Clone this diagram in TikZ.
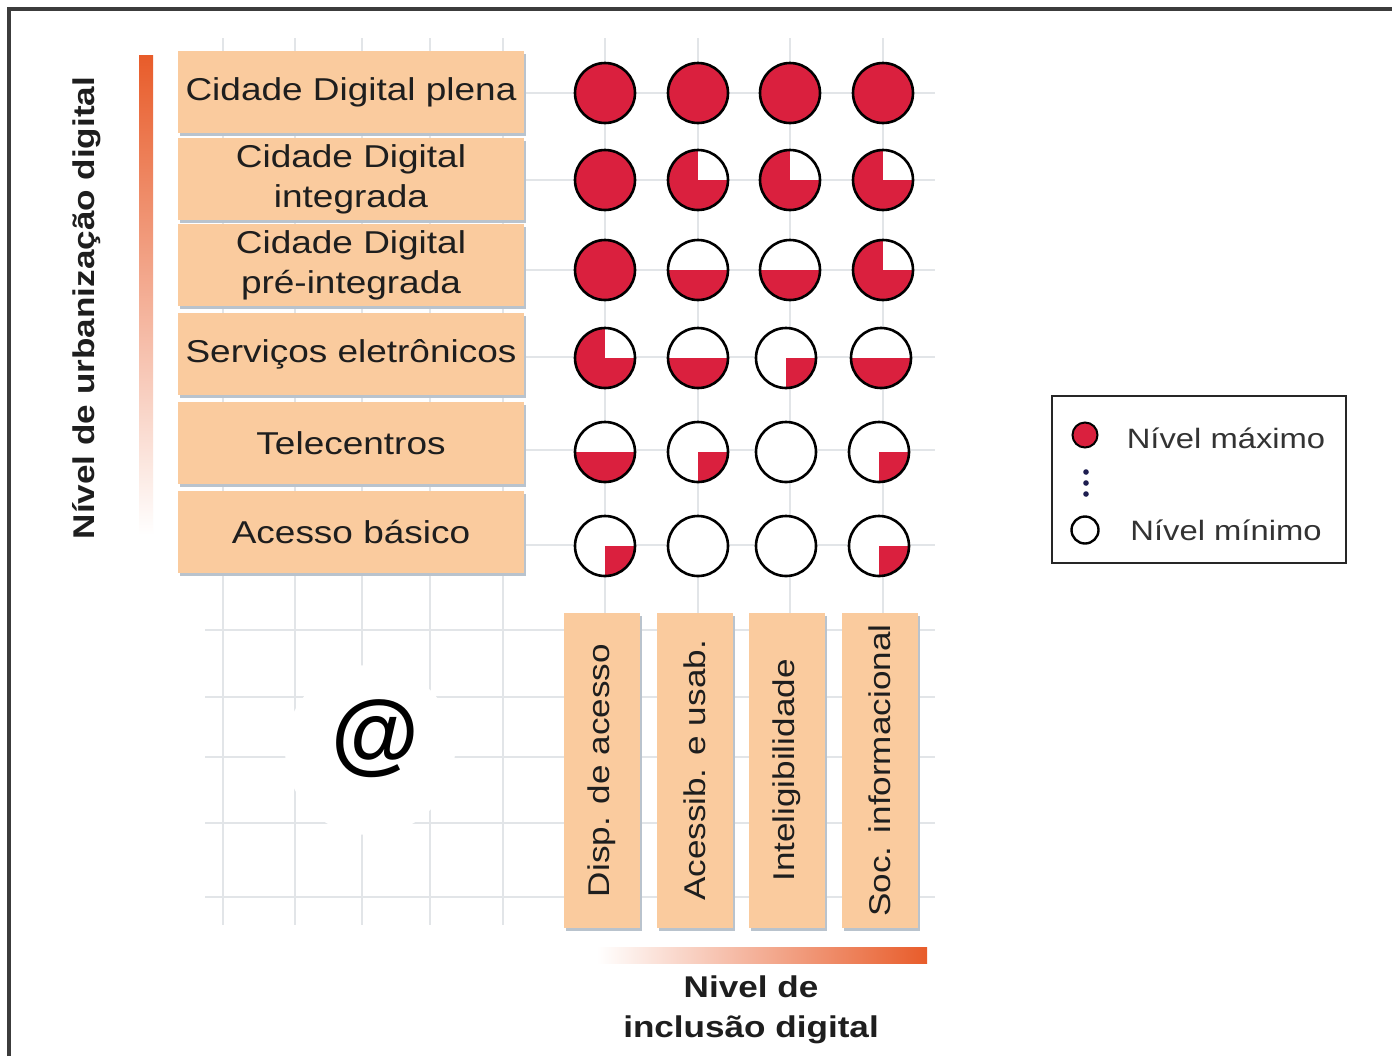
\documentclass[tikz,border=0pt]{standalone}
\usepackage{fontspec}
\usepackage{graphicx}
\setmainfont{Liberation Sans}[FakeStretch=1.17]
\newfontfamily\atfont{Liberation Sans}
\usetikzlibrary{shadows}
\definecolor{peach}{RGB}{250,203,158}
\definecolor{redc}{RGB}{218,32,62}
\definecolor{orangec}{RGB}{232,92,42}
\definecolor{pinkc}{RGB}{236,165,155}
\definecolor{gridc}{RGB}{226,229,232}
\definecolor{shadowc}{RGB}{185,195,205}
\definecolor{txt}{RGB}{30,30,30}
\definecolor{framec}{RGB}{60,60,60}
\definecolor{navyc}{RGB}{30,30,80}
\begin{document}
\begin{tikzpicture}[x=0.5pt,y=-0.5pt,
  rowbox/.style={rectangle, fill=peach, minimum width=173pt, minimum height=41pt,
    inner sep=0pt, align=center, text=txt, font=\fontsize{15.8}{20}\selectfont,
    general shadow={shadow xshift=1pt, shadow yshift=-1.5pt, fill=shadowc}},
  colbox/.style={rectangle, fill=peach, minimum width=38pt, minimum height=157.5pt,
    inner sep=0pt, text=txt, font=\fontsize{15}{20}\selectfont,
    general shadow={shadow xshift=1.2pt, shadow yshift=-1.5pt, fill=shadowc}},
  lev/.style={circle, draw=black, line width=1.3pt, minimum size=30pt, inner sep=0pt},
  lev4/.style={lev, fill=redc},
  lev3/.style={lev, fill=redc, path picture={\fill[white] (path picture bounding box.center) rectangle (path picture bounding box.north east);}},
  lev2/.style={lev, fill=white, path picture={\fill[redc] (path picture bounding box.west) rectangle (path picture bounding box.south east);}},
  lev1/.style={lev, fill=white, path picture={\fill[redc] (path picture bounding box.center) rectangle (path picture bounding box.south east);}},
  lev0/.style={lev, fill=white},
  gridline/.style={draw=gridc, line width=1pt},
  labtext/.style={text=txt, font=\bfseries\fontsize{15}{20}\selectfont, inner sep=0pt},
  dotc/.style={circle, fill=navyc, minimum size=2.8pt, inner sep=0pt}
]
\useasboundingbox (0,0) rectangle (1392,1056);
\fill[white] (0,0) rectangle (1392,1056);
% frame
\draw[framec, line width=1.6pt] (9,1056) -- (9,9) -- (1392,9);
% grid
\foreach \gx in {223,295,362,430,503,605,698,790,883}
  \draw[gridline] (\gx,38) -- (\gx,925);
\foreach \gy in {93,180,270,357,450,545,630,697,757,823,897}
  \draw[gridline] (205,\gy) -- (935,\gy);
% @ with white patch
\node[circle, fill=white, minimum size=85pt, inner sep=0pt] (atbg) at (370,750) {};
\node[font=\atfont\bfseries\fontsize{45}{45}\selectfont, inner sep=0pt] (at) at (375,739) {@};
% axis label and bar (vertical)
\shade[top color=orangec, middle color=pinkc, bottom color=white] (139,55) rectangle (153,535);
\node[labtext, rotate=90] (ylab) at (87,308) {Nível de urbanização digital};
% row boxes
\node[rowbox] (r1) at (351,92) {Cidade Digital plena};
\node[rowbox] (r2) at (351,179) {Cidade Digital\\integrada};
\node[rowbox] (r3) at (351,265) {Cidade Digital\\pré-integrada};
\node[rowbox] (r4) at (351,354) {Serviços eletrônicos};
\node[rowbox] (r5) at (351,443) {Telecentros};
\node[rowbox] (r6) at (351,532) {Acesso básico};
% column boxes
\node[colbox] (k1) at (601.5,770.5) {\rotatebox{90}{Disp. de acesso}};
\node[colbox] (k2) at (694.5,770.5) {\rotatebox{90}{Acessib. e usab.}};
\node[colbox] (k3) at (787,770.5) {\rotatebox{90}{Inteligibilidade}};
\node[colbox] (k4) at (880,770.5) {\rotatebox{90}{Soc. informacional}};
% horizontal bar and label
\shade[left color=white, middle color=pinkc, right color=orangec] (597,947) rectangle (927,963);
\node[labtext, align=center] (xlab) at (751,1010) {Nivel de\\inclusão digital};
% circles
\node[lev4] (c11) at (605,93) {};
\node[lev4] (c12) at (698,93) {};
\node[lev4] (c13) at (790,93) {};
\node[lev4] (c14) at (883,93) {};
\node[lev4] (c21) at (605,180) {};
\node[lev3] (c22) at (698,180) {};
\node[lev3] (c23) at (790,180) {};
\node[lev3] (c24) at (883,180) {};
\node[lev4] (c31) at (605,270) {};
\node[lev2] (c32) at (698,270) {};
\node[lev2] (c33) at (790,270) {};
\node[lev3] (c34) at (883,270) {};
\node[lev3] (c41) at (605,358) {};
\node[lev2] (c42) at (698,358) {};
\node[lev1] (c43) at (786,358) {};
\node[lev2] (c44) at (881,358) {};
\node[lev2] (c51) at (605,452) {};
\node[lev1] (c52) at (698,452) {};
\node[lev0] (c53) at (786,452) {};
\node[lev1] (c54) at (879,452) {};
\node[lev1] (c61) at (605,546) {};
\node[lev0] (c62) at (698,546) {};
\node[lev0] (c63) at (786,546) {};
\node[lev1] (c64) at (879,546) {};
% legend
\node[draw=black!85, line width=1pt, minimum width=147pt, minimum height=83.5pt, inner sep=0pt] (leg) at (1199,479.5) {};
\node[circle, fill=redc, draw=black, line width=1pt, minimum size=12.5pt, inner sep=0pt] (lmax) at (1085,435) {};
\node[dotc] (d1) at (1086,472) {};
\node[dotc] (d2) at (1086,483) {};
\node[dotc] (d3) at (1086,494) {};
\node[circle, fill=white, draw=black, line width=1.2pt, minimum size=13.5pt, inner sep=0pt] (lmin) at (1085,530) {};
\node[text=black!80, font=\fontsize{14}{16}\selectfont, inner sep=0pt] (tmax) at (1226,438) {Nível máximo};
\node[text=black!80, font=\fontsize{14}{16}\selectfont, inner sep=0pt] (tmin) at (1226,530) {Nível mínimo};
\end{tikzpicture}
\end{document}
